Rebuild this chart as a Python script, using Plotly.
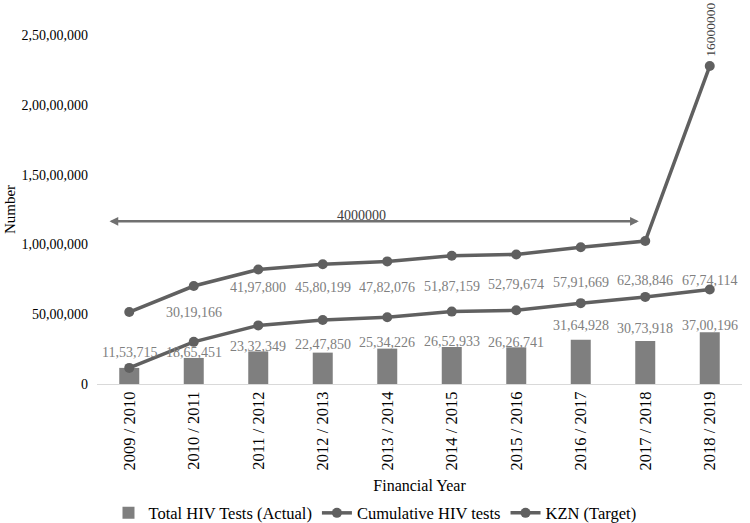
import plotly.graph_objects as go

years = ["2009 / 2010", "2010 / 2011", "2011 / 2012", "2012 / 2013", "2013 / 2014",
         "2014 / 2015", "2015 / 2016", "2016 / 2017", "2017 / 2018", "2018 / 2019"]
total_tests = [1153715, 1865451, 2332349, 2247850, 2534226,
               2652933, 2626741, 3164928, 3073918, 3700196]
cumulative = [1153715, 3019166, 4197800, 4580199, 4782076,
              5187159, 5279674, 5791669, 6238846, 6774114]
kzn_target = [4000000, 4000000, 4000000, 4000000, 4000000,
              4000000, 4000000, 4000000, 4000000, 16000000]
y_tick_vals = [0, 5000000, 10000000, 15000000, 20000000, 25000000]
y_tick_text = ["0", "50,00,000", "1,00,00,000", "1,50,00,000", "2,00,00,000", "2,50,00,000"]

# label offsets (px) above the data point
bar_label_shift = [15, 5, 5, 8, 6, 5, 5, 14, 13, 7]
cum_label_shift = [None, 29, 38, 33, 30, 25, 26, 21, 16, 9]


def indian(n):
    s = str(int(n))
    if len(s) <= 3:
        return s
    head, tail = s[:-3], s[-3:]
    parts = []
    while len(head) > 2:
        parts.insert(0, head[-2:])
        head = head[:-2]
    if head:
        parts.insert(0, head)
    return ",".join(parts) + "," + tail


FONT = "Liberation Serif, Times New Roman, serif"
BAR_C = "#7f7f7f"
LINE_C = "#606060"
LABEL_C = "#808080"

x = list(range(len(years)))
kzn_stacked = [c + t for c, t in zip(cumulative, kzn_target)]

fig = go.Figure()
fig.add_trace(go.Bar(x=x, y=total_tests, name="Total HIV Tests (Actual)",
                     marker=dict(color=BAR_C, line=dict(width=0)), width=0.31))
fig.add_trace(go.Scatter(x=x, y=cumulative, name="Cumulative HIV tests", mode="lines+markers",
                         line=dict(color=LINE_C, width=3.5), marker=dict(size=10, color=LINE_C)))
fig.add_trace(go.Scatter(x=x, y=kzn_stacked, name="KZN (Target)", mode="lines+markers",
                         line=dict(color=LINE_C, width=3.5), marker=dict(size=10, color=LINE_C)))

annotations = []
for i, v in enumerate(total_tests):
    annotations.append(dict(x=i, y=v, text=indian(v), showarrow=False, yanchor="middle",
                            yshift=bar_label_shift[i], font=dict(family=FONT, size=14, color=LABEL_C)))
for i, v in enumerate(cumulative):
    if cum_label_shift[i] is None:
        continue
    annotations.append(dict(x=i, y=v, text=indian(v), showarrow=False, yanchor="middle",
                            yshift=cum_label_shift[i], font=dict(family=FONT, size=14, color=LABEL_C)))

# target annotations
annotations.append(dict(x=9, y=kzn_stacked[9], text=str(kzn_target[9]), showarrow=False,
                        textangle=-90, yanchor="bottom", yshift=7,
                        font=dict(family=FONT, size=13.5, color="#404040")))
arrow_y = kzn_stacked[0] + 6500000
annotations.append(dict(x=7.9, y=arrow_y, ax=-0.33, ay=arrow_y, axref="x", ayref="y",
                        xref="x", yref="y", text="", showarrow=True, arrowside="end+start",
                        arrowhead=2, arrowsize=0.7, arrowwidth=2.5, arrowcolor="#707070"))
annotations.append(dict(x=3.6, y=arrow_y, text=str(kzn_target[0]), showarrow=False,
                        yanchor="bottom", yshift=-4,
                        font=dict(family=FONT, size=14, color="#404040")))

fig.update_layout(
    width=750, height=523,
    margin=dict(l=97, r=8, t=35, b=139, autoexpand=False),
    paper_bgcolor="white", plot_bgcolor="white",
    font=dict(family=FONT, size=14, color="#000000"),
    bargap=0.69,
    showlegend=True,
    legend=dict(orientation="h", x=0.431, xanchor="center",
                y=-0.37, yanchor="middle",
                font=dict(family=FONT, size=16.5, color="#000000")),
    annotations=annotations,
    xaxis=dict(tickmode="array", tickvals=x, ticktext=years, tickangle=-90,
               range=[-0.5, 9.5], showline=True, linecolor="#d9d9d9", linewidth=1,
               showgrid=False, zeroline=False, ticks="", automargin=False,
               tickfont=dict(family=FONT, size=16.5, color="#000000"),
               title=dict(text="Financial Year", standoff=10,
                          font=dict(family=FONT, size=16, color="#000000"))),
    yaxis=dict(tickmode="array", tickvals=y_tick_vals, ticktext=y_tick_text,
               range=[0, 25000000], showline=False, showgrid=False, zeroline=False, ticks="",
               ticklabelstandoff=8, automargin=False,
               tickfont=dict(family=FONT, size=14, color="#000000"),
               title=dict(text="Number", standoff=2,
                          font=dict(family=FONT, size=15, color="#000000"))),
)

fig.write_html("out.html", config={"displayModeBar": False},
               post_script="document.body.style.margin='0';document.body.style.overflow='hidden';")
